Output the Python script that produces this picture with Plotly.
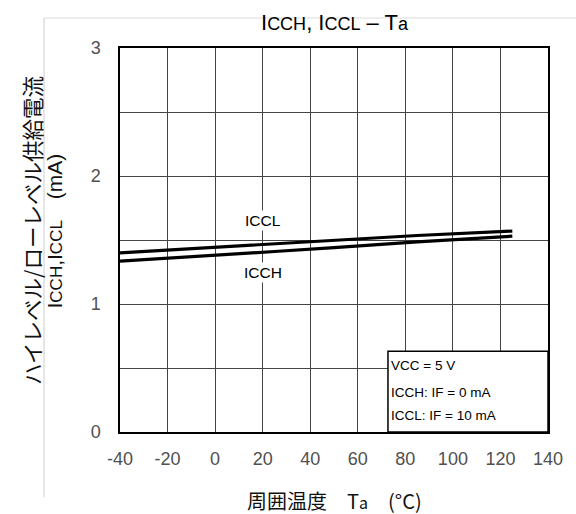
import plotly.graph_objects as go

# Data
temp = [-40, 0, 25, 50, 85, 125]
iccl = [1.40, 1.445, 1.47, 1.50, 1.535, 1.57]
icch = [1.335, 1.385, 1.41, 1.44, 1.485, 1.53]

x_ticks = [-40, -20, 0, 20, 40, 60, 80, 100, 120, 140]
y_ticks = [0, 0.5, 1, 1.5, 2, 2.5, 3]
y_ticktext = ["0", "", "1", "", "2", "", "3"]

cond_lines = ["VCC = 5 V", "ICCH: IF = 0 mA", "ICCL: IF = 10 mA"]
cond_y = [0.522, 0.312, 0.132]

FONT = "Liberation Sans, Arial, Noto Sans CJK JP, sans-serif"
JFONT = "Noto Sans CJK JP, Liberation Sans, sans-serif"

fig = go.Figure()
fig.add_trace(go.Scatter(x=temp, y=iccl, mode="lines",
                         line=dict(color="black", width=3.2), showlegend=False))
fig.add_trace(go.Scatter(x=temp, y=icch, mode="lines",
                         line=dict(color="black", width=3.2), showlegend=False))

W, H = 576, 514
L, R, T, B = 120, 28, 48, 82
pw, ph = W - L - R, H - T - B

def px_x(p):
    return (p - L) / pw

def px_y(p):
    return (H - B - p) / ph

fig.update_layout(
    width=W, height=H,
    margin=dict(l=L, r=R, t=T, b=B),
    paper_bgcolor="white", plot_bgcolor="white",
    font=dict(family=FONT, color="#444444"),
    showlegend=False,
)
fig.update_xaxes(range=[-40, 140], tickvals=x_ticks, ticktext=[str(v) for v in x_ticks],
                 showgrid=True, gridcolor="#444444", gridwidth=1,
                 showline=True, linecolor="black", linewidth=1.5, mirror=True,
                 ticks="outside", ticklen=10, tickcolor="rgba(0,0,0,0)",
                 tickfont=dict(size=18, color="#505050", family=FONT), zeroline=False)
fig.update_yaxes(range=[0, 3], tickvals=y_ticks, ticktext=y_ticktext,
                 showgrid=True, gridcolor="#444444", gridwidth=1,
                 showline=True, linecolor="black", linewidth=1.5, mirror=True,
                 ticks="outside", ticklen=14, tickcolor="rgba(0,0,0,0)",
                 tickfont=dict(size=18, color="#505050", family=FONT), zeroline=False)

# condition box
fig.add_shape(type="rect", xref="x", yref="y", x0=72.7, x1=140, y0=0, y1=0.63,
              fillcolor="white", line=dict(color="black", width=1.5), layer="above")
for t, yy in zip(cond_lines, cond_y):
    fig.add_annotation(x=73.2, y=yy, xref="x", yref="y", text=t, showarrow=False,
                       xanchor="left", yanchor="middle",
                       font=dict(size=13.5, color="black", family=FONT))

# curve labels
fig.add_annotation(x=20, y=1.655, xref="x", yref="y", text="ICCL", showarrow=False,
                   bgcolor="white", font=dict(size=15.5, color="black", family=FONT))
fig.add_annotation(x=20, y=1.245, xref="x", yref="y", text="ICCH", showarrow=False,
                   bgcolor="white", font=dict(size=15.5, color="black", family=FONT))

# title
sm18 = "<span style='font-size:18px'>%s</span>"
fig.add_annotation(x=px_x(335), y=px_y(22), xref="paper", yref="paper",
                   text="I" + sm18 % "CCH" + ", I" + sm18 % "CCL" + " – T" + sm18 % "a",
                   showarrow=False, xanchor="center", yanchor="middle",
                   font=dict(size=22, color="black", family=FONT))

# y title
fig.add_annotation(x=px_x(31), y=px_y(231), xref="paper", yref="paper",
                   text="ハイレベル/ローレベル供給電流", textangle=-90, showarrow=False,
                   xanchor="center", yanchor="middle",
                   font=dict(size=21.5, color="#111111", family=JFONT))
sm17 = "<span style='font-size:17px'>%s</span>"
fig.add_annotation(x=px_x(53.5), y=px_y(231), xref="paper", yref="paper",
                   text="I" + sm17 % "CCH" + ",I" + sm17 % "CCL" + "　(mA)", textangle=-90,
                   showarrow=False, xanchor="center", yanchor="middle",
                   font=dict(size=21, color="#111111", family=FONT))

# x title
sm16 = "<span style='font-size:16px'>%s</span>"
fig.add_annotation(x=px_x(334), y=px_y(500), xref="paper", yref="paper",
                   text="周囲温度　T" + sm16 % "a" + "　(°C)", showarrow=False,
                   xanchor="center", yanchor="middle",
                   font=dict(size=20, color="#111111", family=JFONT))

# faint outer frame lines
fig.add_shape(type="line", xref="paper", yref="paper", x0=px_x(44), x1=px_x(576),
              y0=px_y(18), y1=px_y(18), line=dict(color="#dddddd", width=1))
fig.add_shape(type="line", xref="paper", yref="paper", x0=px_x(44), x1=px_x(44),
              y0=px_y(18), y1=px_y(497), line=dict(color="#cccccc", width=1))

fig.write_html("out.html", config={"displayModeBar": False},
               post_script="document.body.style.margin='0';document.body.style.padding='0';")
